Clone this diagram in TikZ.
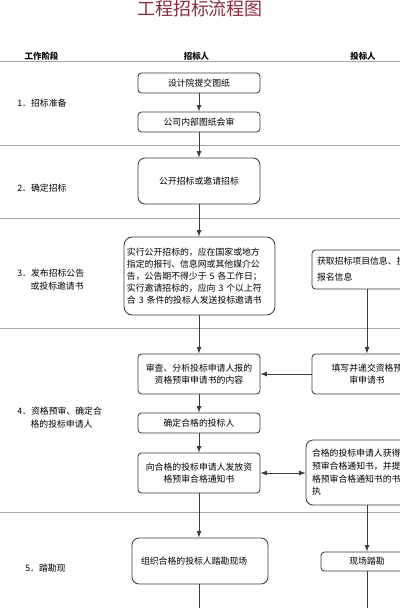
\documentclass[tikz,border=0pt]{standalone}
\usepackage{fontspec}
\setmainfont{Noto Sans CJK SC}
\usetikzlibrary{arrows}
\definecolor{titlered}{RGB}{140,45,60}
\definecolor{rowgray}{RGB}{170,170,170}
\definecolor{boxline}{RGB}{60,60,60}

\begin{document}
\begin{tikzpicture}[x=0.25mm,y=-0.25mm,
  every node/.style={font=\fontsize{6.3pt}{9pt}\selectfont, inner sep=0pt},
  box/.style={draw=boxline, line width=0.6pt, rounded corners=2.5pt, align=center,
    minimum width=30.5mm, minimum height=5mm},
  bigbox/.style={box, rounded corners=5pt},
  phase/.style={anchor=west, align=left},
  head/.style={font=\fontsize{6pt}{7pt}\selectfont\bfseries},
  rowline/.style={draw=rowgray, line width=0.6pt},
  flow/.style={-latex, line width=0.6pt, draw=boxline}]

\useasboundingbox (0,0) rectangle (400,608);
\clip (0,0) rectangle (400,608);

% Titre
\node[font=\fontsize{12.8pt}{14pt}\selectfont, text=titlered] (titre) at (200,8.5) {工程招标流程图};

% En-tete
\node[head] (hphase) at (41.5,56.5) {工作阶段};
\node[head] (hzhao) at (196.5,56.5) {招标人};
\node[head] (htou) at (363,56.5) {投标人};

% Lignes des etapes
\foreach \y in {61,145,218,328,512}
{
\draw[rowline] (0,\y) -- (400,\y);
}

% Etapes
\node[phase] (p1) at (17,103) {1．招标准备};
\node[phase] (p2) at (17,188) {2．确定招标};
\node[phase] (p3) at (17,279.5) {3．发布招标公告\\\hspace*{1.5em}或投标邀请书};
\node[phase] (p4) at (17,417.5) {4．资格预审、确定合\\\hspace*{1.5em}格的投标申请人};
\node[phase] (p5) at (25,568) {5．踏勘现};

%招标人
\node[box] (tuzhi) at (199,83) {设计院提交图纸};
\node[box] (huishen) at (199,122) {公司内部图纸会审};
\node[bigbox, minimum height=11.5mm] (zhaobiao) at (199,181) {公开招标或邀请招标};
\node[bigbox, rounded corners=6pt, minimum width=37.75mm, minimum height=19.5mm,
  text width=36.25mm, align=left, font=\fontsize{6.3pt}{8.5pt}\selectfont] (gonggao) at (199.5,276)
  {实行公开招标的，应在国家或地方\\指定的报刊、信息网或其他媒介公\\告，公告期不得少于 5 各工作日；\\实行邀请招标的，应向 3 个以上符\\合 3 条件的投标人发送投标邀请书};
\node[box, minimum height=10mm] (shencha) at (199,374) {审查、分析投标申请人报的\\资格预审申请书的内容};
\node[box] (queding) at (199,423) {确定合格的投标人};
\node[box, minimum height=10mm] (tongzhi) at (199,473) {向合格的投标申请人发放资\\格预审合格通知书};
\node[bigbox, minimum width=34mm, minimum height=11.5mm, text width=29.5mm, align=left] (zuzhi) at (200,561)
  {组织合格的投标人踏勘现场};

% 投标人
\node[box, minimum width=27.5mm, minimum height=9.75mm, text width=25mm, align=left,
  font=\fontsize{6.3pt}{11.5pt}\selectfont] (huoqu) at (367,269.5) {获取招标项目信息、投\\报名信息};
\node[box, minimum width=27.5mm, minimum height=10mm] (tianxie) at (367,374) {填写并递交资格预\\审申请书};
\node[bigbox, minimum height=16.25mm, text width=27.5mm, align=left] (huizhi) at (367,472.5)
  {合格的投标申请人获得\\预审合格通知书，并提\\格预审合格通知书的书\\执};
\node[box, minimum width=23mm, minimum height=4.75mm] (tankan) at (367,561.5) {现场踏勘};

\coordinate (finL) at (199,608);
\coordinate (finR) at (367,608);

% Fleches
\draw[flow] (tuzhi) -- (huishen);
\draw[flow] (huishen) -- (zhaobiao);
\draw[flow] (zhaobiao) -- (gonggao.north -| zhaobiao.south);
\draw[flow] (gonggao.south -| shencha.north) -- (shencha);
\draw[flow] (huoqu) -- (tianxie);
\draw[flow] (tianxie) -- (shencha);
\draw[flow] (shencha) -- (queding);
\draw[flow] (queding) -- (tongzhi);
\draw[flow, latex-latex] (tongzhi.east) -- (tongzhi.east -| huizhi.west);
\draw[flow] (tongzhi) -- (zuzhi.north -| tongzhi.south);
\draw[flow] (huizhi) -- (tankan);
\draw[line width=0.6pt, draw=boxline] (zuzhi.south -| finL) -- (finL);
\draw[line width=0.6pt, draw=boxline] (tankan) -- (finR);

\end{tikzpicture}
\end{document}
